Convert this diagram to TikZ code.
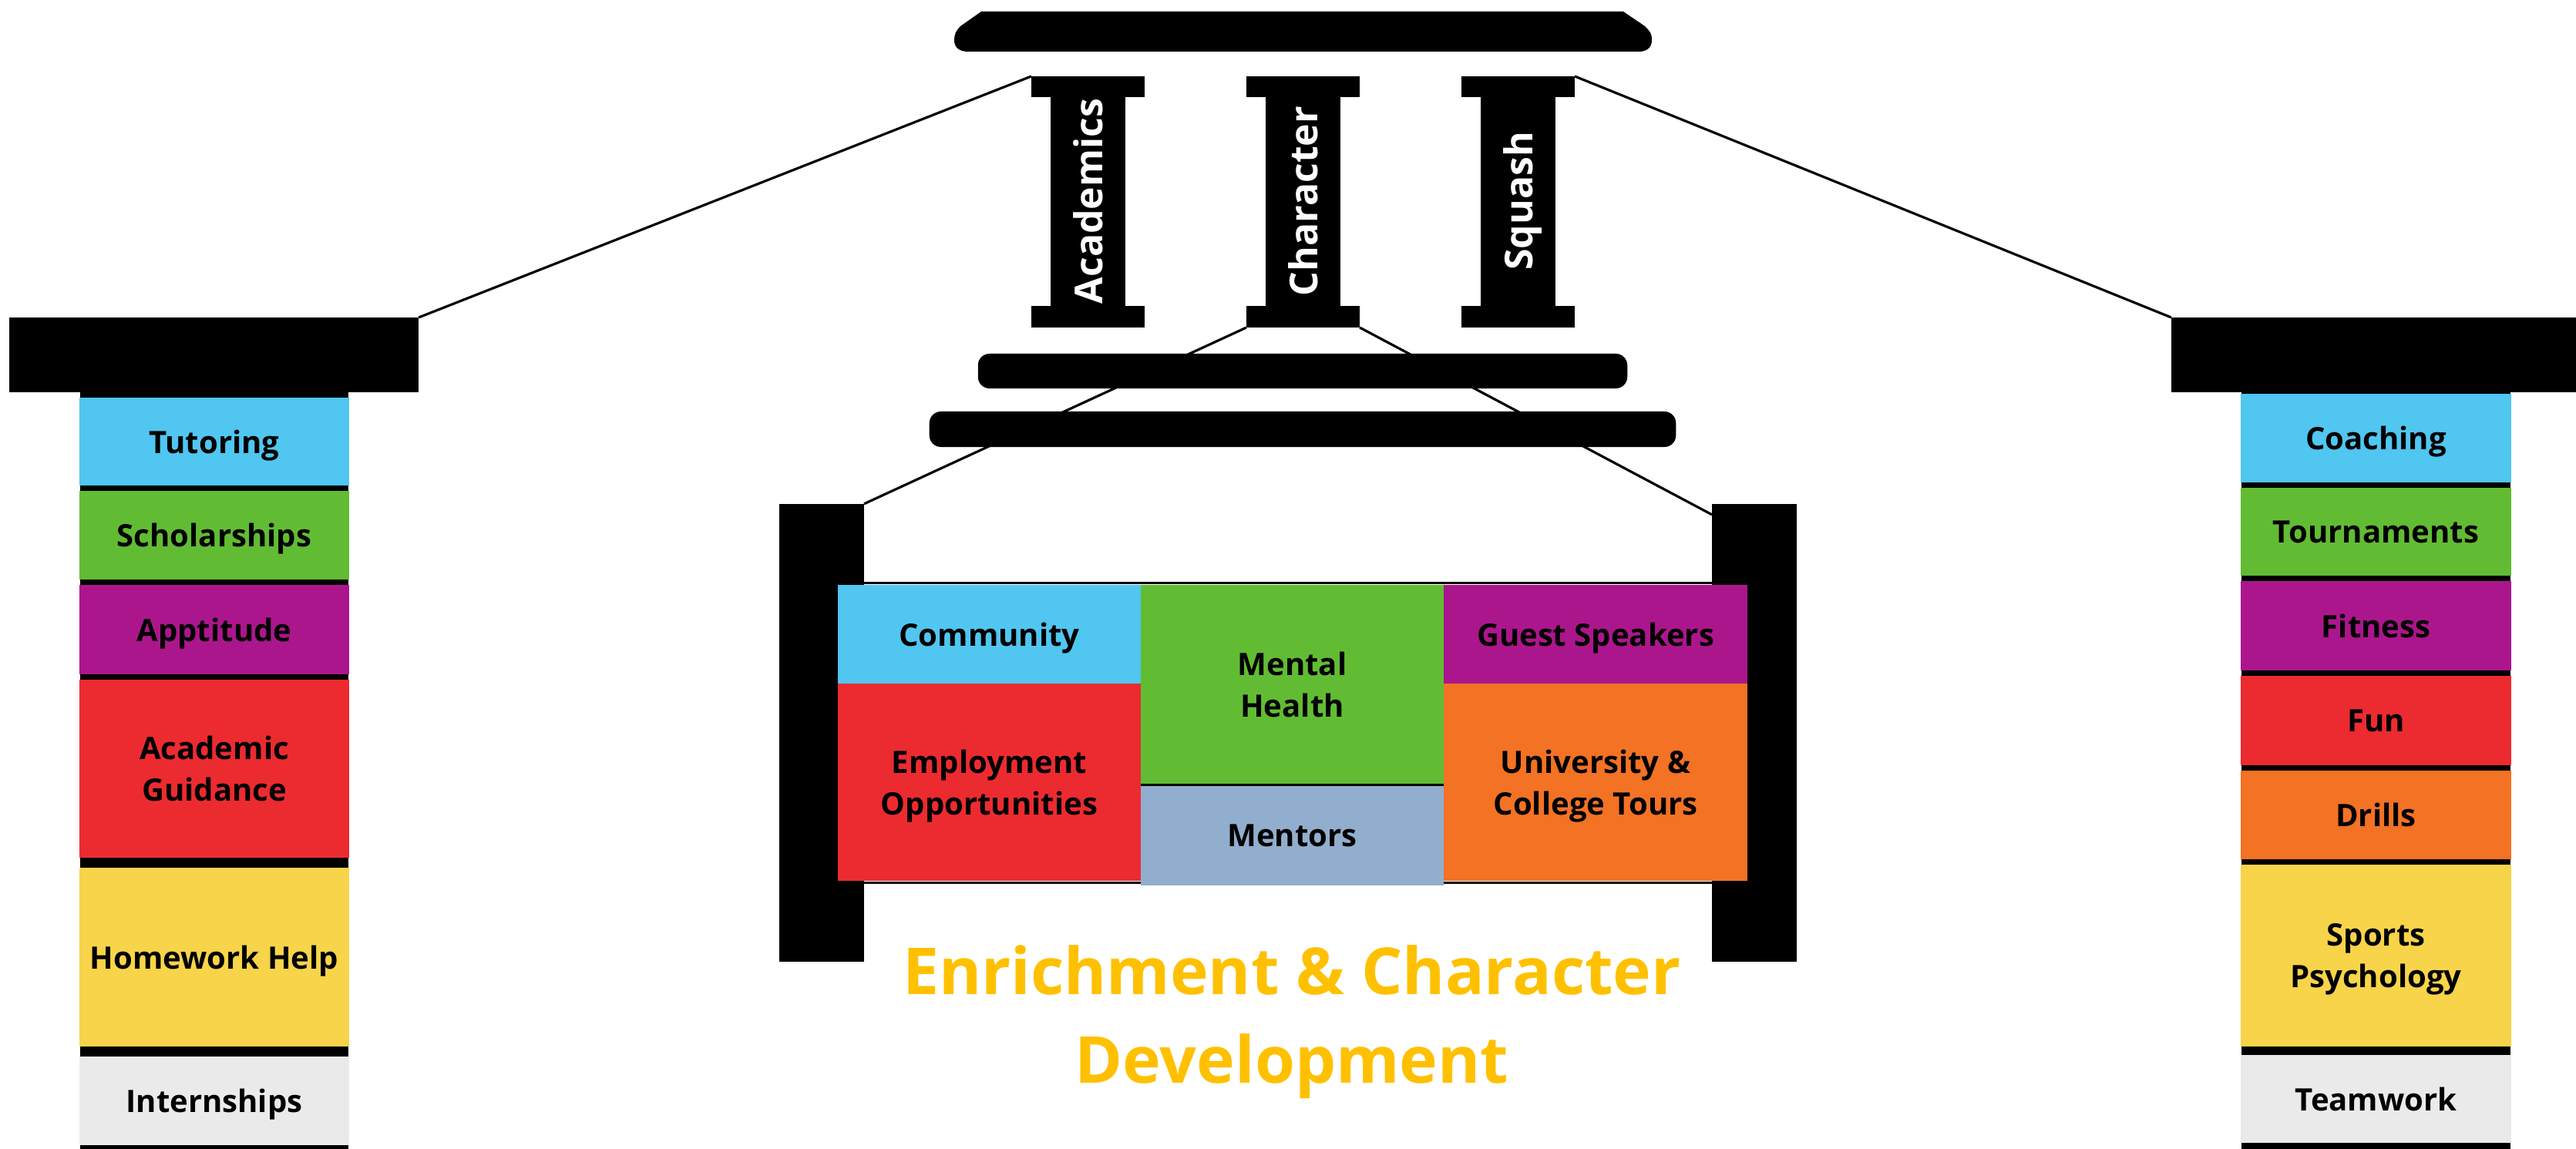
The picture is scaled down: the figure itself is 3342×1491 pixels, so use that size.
\documentclass[tikz,border=0pt]{standalone}
\usepackage{fontspec}
\setmainfont{Open Sans}
\usetikzlibrary{backgrounds}

\definecolor{skyblue}{HTML}{50C6F1}
\definecolor{leafgreen}{HTML}{62BC33}
\definecolor{plum}{HTML}{AC168C}
\definecolor{brickred}{HTML}{EC2B30}
\definecolor{tangerine}{HTML}{F37224}
\definecolor{sunyellow}{HTML}{F8D44B}
\definecolor{palegray}{HTML}{EAEAEA}
\definecolor{steel}{HTML}{92AECE}
\definecolor{gold}{HTML}{FFC000}

\newcommand\lblfont{\bfseries\fontsize{11.4}{15.4}\selectfont}
\newcommand\pillarfont{\bfseries\fontsize{14.2}{17}\selectfont}
\newcommand\titlefont{\bfseries\fontsize{23.9}{32.8}\selectfont}

\tikzset{
  blackbox/.style={fill=black, inner sep=0pt, outer sep=0pt},
  colbox/.style={fill=#1, inner sep=0pt, outer sep=0pt, minimum width=3.5cm, align=center, text depth=0pt, font=\lblfont},
  cell/.style={fill=#1, inner sep=0pt, outer sep=0pt, minimum width=3.93cm, align=center, text depth=0pt, font=\lblfont},
  pillarcap/.style={blackbox, minimum width=1.47cm, minimum height=0.27cm},
  link/.style={draw=black, line width=0.9pt},
}

\begin{document}
\begin{tikzpicture}[x=0.01cm, y=-0.01cm]
    \useasboundingbox (0,0) rectangle (3342,1491);

    % roof
    \fill (1273,15) -- (2106,15) -- (2134,34) .. controls (2142,42) and (2143,45) .. (2143,52)
        .. controls (2143,62) and (2136,67) .. (2126,67) -- (1256,67)
        .. controls (1245,67) and (1238,62) .. (1238,52)
        .. controls (1238,45) and (1240,40) .. (1246,34) -- cycle;

    % the three pillars
    \foreach \nm/\px/\txt in {acad/1411.5/Academics, charac/1690.5/Character, squash/1969.5/Squash} {
        \node[pillarcap] (\nm-top) at (\px,112.5) {};
        \node[blackbox, rotate=90, minimum width=2.72cm, minimum height=0.96cm, text depth=0pt,
              text=white, font=\pillarfont] (\nm) at (\px,261) {\txt};
        \node[pillarcap, minimum height=0.28cm] (\nm-bot) at (\px,411) {};
    }

    % bars below the pillars
    \node[blackbox, rounded corners=0.15cm, minimum width=8.42cm, minimum height=0.45cm] (upperbar) at (1690,481.5) {};
    \node[blackbox, rounded corners=0.15cm, minimum width=9.68cm, minimum height=0.46cm] (lowerbar) at (1690,557) {};

    % left column
    \node[blackbox, minimum width=3.48cm, minimum height=9.82cm] (leftstack) at (278,1000) {};
    \node[blackbox, minimum width=5.31cm, minimum height=0.97cm] (leftcap) at (277.5,460.5) {};
    \node[colbox=skyblue, minimum height=1.14cm] (tutor) at (278,573) {Tutoring};
    \node[colbox=leafgreen, minimum height=1.15cm] (scholar) at (278,694.5) {Scholarships};
    \node[colbox=plum, minimum height=1.16cm] (aptitude) at (278,817) {Apptitude};
    \node[colbox=brickred, minimum height=2.31cm] (guidance) at (278,997.5) {Academic\\Guidance};
    \node[colbox=sunyellow, minimum height=2.32cm] (homework) at (278,1242) {Homework Help};
    \node[colbox=palegray, minimum height=1.15cm] (intern) at (278,1428.5) {Internships};

    % right column
    \node[blackbox, minimum width=3.49cm, minimum height=9.82cm] (rightstack) at (3082.5,1000) {};
    \node[blackbox, minimum width=5.25cm, minimum height=0.97cm] (rightcap) at (3079.5,460.5) {};
    \node[colbox=skyblue, minimum height=1.15cm] (coach) at (3082.5,568.5) {Coaching};
    \node[colbox=leafgreen, minimum height=1.14cm] (tourn) at (3082.5,690) {Tournaments};
    \node[colbox=plum, minimum height=1.16cm] (fitness) at (3082.5,812) {Fitness};
    \node[colbox=brickred, minimum height=1.16cm] (fun) at (3082.5,935) {Fun};
    \node[colbox=tangerine, minimum height=1.15cm] (drills) at (3082.5,1057.5) {Drills};
    \node[colbox=sunyellow, minimum height=2.36cm] (sportpsy) at (3082.5,1240) {Sports\\Psychology};
    \node[colbox=palegray, minimum height=1.14cm] (teamwork) at (3082.5,1426) {Teamwork};

    % middle frame
    \node[blackbox, minimum width=1.10cm, minimum height=5.94cm] (leftpost) at (1066,951) {};
    \node[blackbox, minimum width=1.10cm, minimum height=5.94cm] (rightpost) at (2276,951) {};
    \node[cell=skyblue, minimum height=1.28cm] (comm) at (1283.5,823) {Community};
    \node[cell=brickred, minimum height=2.56cm] (employ) at (1283.5,1015) {Employment\\Opportunities};
    \node[cell=leafgreen, minimum height=2.58cm] (mental) at (1676.5,888) {Mental\\Health};
    \node[cell=steel, minimum height=1.29cm] (mentors) at (1676.5,1084.5) {Mentors};
    \node[cell=plum, minimum width=3.94cm, minimum height=1.28cm] (guest) at (2070,823) {Guest Speakers};
    \node[cell=tangerine, minimum width=3.94cm, minimum height=2.56cm] (univ) at (2070,1015) {University \&\\College Tours};
    \draw[line width=0.03cm] ([yshift=-0.015cm]mental.south west) -- ([yshift=-0.015cm]mental.south east);

    \node[font=\titlefont, text=gold, align=center] (title) at (1676,1326) {Enrichment \& Character\\Development};

    % connecting lines
    \begin{pgfonlayer}{background}
        \draw[link] (acad-top.north west) -- (leftcap.north east);
        \draw[link] (squash-top.north east) -- (rightcap.north west);
        \draw[link] (charac-bot.south west) -- (leftpost.north east);
        \draw[link] (charac-bot.south east) -- ([yshift=-0.14cm]rightpost.north west);
        \draw[link] ([yshift=0.025cm]leftpost.east |- comm.north) -- ([yshift=0.025cm]rightpost.west |- comm.north);
        \draw[link] ([yshift=-0.02cm]leftpost.east |- employ.south) -- ([yshift=-0.02cm]rightpost.west |- employ.south);
    \end{pgfonlayer}
\end{tikzpicture}
\end{document}
